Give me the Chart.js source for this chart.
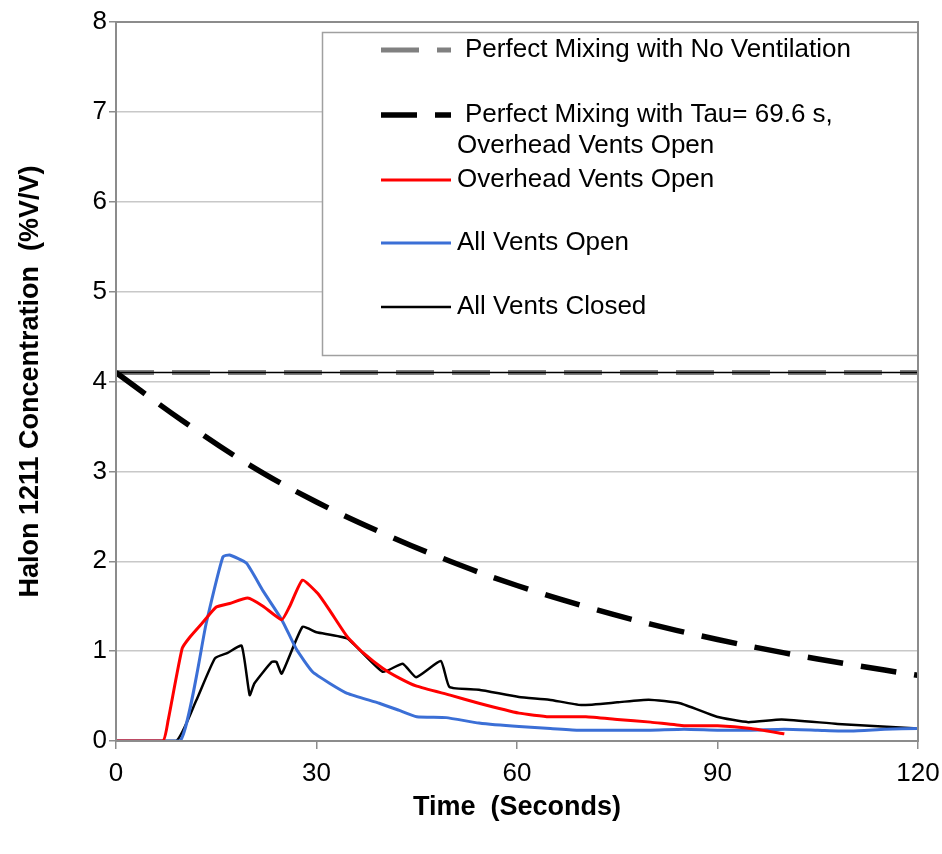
<!DOCTYPE html>
<html>
<head>
<meta charset="utf-8">
<script src="https://cdn.jsdelivr.net/npm/chart.js@4.4.1/dist/chart.umd.min.js"></script>
<style>
  html, body { margin: 0; padding: 0; background: #fff; }
</style>
</head>
<body>
<canvas id="graf" width="942" height="854"></canvas>
<script>
"use strict";

// Tid (s) og koncentration (%V/V)
const overheadT = [0, 7, 7.8, 9.9, 11.1, 13, 15, 17, 19.7, 22, 24.8, 26, 27.9, 30.2, 32, 34.6, 37, 39.9, 42.4, 45, 50, 54.3, 60.3, 64.8, 70.3, 75, 80, 85, 90, 95, 100];
const overheadV = [0, 0, 0.23, 1.03, 1.16, 1.32, 1.49, 1.53, 1.59, 1.5, 1.35, 1.5, 1.79, 1.64, 1.45, 1.16, 0.98, 0.81, 0.7, 0.61, 0.51, 0.42, 0.31, 0.27, 0.27, 0.24, 0.21, 0.17, 0.17, 0.14, 0.08];

const alleAabneT = [0, 9.6, 13.5, 16, 17, 19.5, 22, 24.8, 27, 29.4, 32, 34.6, 39.4, 42.4, 45, 49.4, 54.3, 60.3, 65, 69.3, 75, 80, 85, 90, 95, 100, 105, 110, 115, 120];
const alleAabneV = [0, 0, 1.31, 2.05, 2.07, 1.98, 1.67, 1.35, 1.02, 0.77, 0.64, 0.53, 0.42, 0.34, 0.27, 0.26, 0.2, 0.16, 0.14, 0.12, 0.12, 0.12, 0.13, 0.12, 0.12, 0.13, 0.12, 0.11, 0.13, 0.14];

const alleLukketT = [0, 9, 12, 14.8, 16.7, 18.8, 20, 20.7, 23.3, 24, 24.8, 27.9, 30, 34.6, 39.9, 42.9, 44.9, 48.6, 49.9, 54.3, 60.3, 64.8, 69.6, 75, 79.7, 84.4, 89.9, 94.6, 99.6, 108, 120];
const alleLukketV = [0, 0, 0.45, 0.92, 0.98, 1.06, 0.51, 0.64, 0.88, 0.88, 0.75, 1.27, 1.21, 1.14, 0.77, 0.86, 0.71, 0.89, 0.6, 0.57, 0.49, 0.46, 0.4, 0.43, 0.46, 0.42, 0.27, 0.21, 0.24, 0.19, 0.14];

const tauT = [0, 10, 20, 30, 40, 50, 60, 70, 80, 90, 100, 110, 120];
const tauV = [4.1, 3.56, 3.07, 2.66, 2.31, 2.0, 1.73, 1.5, 1.3, 1.13, 0.98, 0.85, 0.73];

const ingenVentT = [0, 120];
const ingenVentV = [4.1, 4.1];

const xTicks = [0, 30, 60, 90, 120];
const yTicks = [0, 1, 2, 3, 4, 5, 6, 7, 8];

const punkter = (t, v) => t.map((x, i) => ({ x: x, y: v[i] }));

const skrift = "'Liberation Sans', Arial, sans-serif";

// legende tegnes selv: boks med hvid baggrund inde i plotområdet
const legendePlugin = {
  id: "legende",
  afterDatasetsDraw(chart) {
    const ctx = chart.ctx;
    const a = chart.chartArea;
    ctx.save();
    ctx.fillStyle = "#fff";
    ctx.fillRect(322, 32, a.right - 322, 323);
    ctx.strokeStyle = "#a0a0a0";
    ctx.lineWidth = 1.5;
    ctx.strokeRect(322.5, 32.5, a.right - 322.5, 323);

    ctx.font = "26px " + skrift;
    ctx.textBaseline = "middle";
    const rader = [
      { ds: 0, y: 50, tx: 465, linjer: ["Perfect Mixing with No Ventilation"] },
      { ds: 1, y: 115, tx: 465, linjer: ["Perfect Mixing with Tau= 69.6 s,"], ekstra: ["Overhead Vents Open"] },
      { ds: 2, y: 180, tx: 457, linjer: ["Overhead Vents Open"] },
      { ds: 3, y: 243, tx: 457, linjer: ["All Vents Open"] },
      { ds: 4, y: 307, tx: 457, linjer: ["All Vents Closed"] }
    ];
    rader.forEach(r => {
      const d = chart.data.datasets[r.ds];
      ctx.beginPath();
      ctx.setLineDash(d.borderDash || []);
      ctx.strokeStyle = d.borderColor;
      ctx.lineWidth = d.borderWidth;
      ctx.moveTo(381, r.y);
      ctx.lineTo(451, r.y);
      ctx.stroke();
      ctx.fillStyle = "#000";
      r.linjer.forEach(t => ctx.fillText(t, r.tx, r.y));
      if (r.ekstra) r.ekstra.forEach((t, i) => ctx.fillText(t, 457, r.y + 31 * (i + 1)));
    });

    // ramme om plotområdet
    ctx.setLineDash([]);
    ctx.strokeStyle = "#8c8c8c";
    ctx.lineWidth = 2;
    ctx.strokeRect(a.left, a.top, a.right - a.left, a.bottom - a.top);
    ctx.restore();
  }
};

new Chart(document.getElementById("graf").getContext("2d"), {
  type: "line",
  data: {
    datasets: [
      { label: "Perfect Mixing with No Ventilation", data: punkter(ingenVentT, ingenVentV), borderColor: "#808080", borderWidth: 5, borderDash: [38, 18], pointRadius: 0, order: 2 },
      { label: "Perfect Mixing with Tau= 69.6 s, Overhead Vents Open", data: punkter(tauT, tauV), borderColor: "#000", borderWidth: 5.5, borderDash: [36, 18], tension: 0.4, pointRadius: 0 },
      { label: "Overhead Vents Open", data: punkter(overheadT, overheadV), borderColor: "#ff0000", borderWidth: 3, tension: 0.15, pointRadius: 0 },
      { label: "All Vents Open", data: punkter(alleAabneT, alleAabneV), borderColor: "#3b6fd6", borderWidth: 3, tension: 0.15, pointRadius: 0 },
      { label: "All Vents Closed", data: punkter(alleLukketT, alleLukketV), borderColor: "#000", borderWidth: 2.5, tension: 0.15, pointRadius: 0 },
      { label: "", data: punkter(ingenVentT, ingenVentV), borderColor: "#000", borderWidth: 1.3, pointRadius: 0, order: 1 }
    ]
  },
  options: {
    responsive: false,
    animation: false,
    layout: { padding: { top: 22, right: 24, left: 0, bottom: 0 } },
    plugins: { legend: { display: false }, tooltip: { enabled: false } },
    scales: {
      x: {
        type: "linear", min: 0, max: 120,
        afterBuildTicks: s => { s.ticks = xTicks.map(v => ({ value: v })); },
        afterFit: s => { s.height = 113; s.paddingLeft = 0; s.paddingRight = 0; },
        ticks: { color: "#000", font: { size: 26, family: skrift }, padding: 9, maxRotation: 0 },
        grid: { drawOnChartArea: false, tickLength: 8, color: "#8c8c8c", lineWidth: 1.5 },
        border: { color: "#8c8c8c", width: 2 },
        title: { display: true, text: "Time  (Seconds)", color: "#000", font: { size: 27, weight: "bold", family: skrift }, padding: { bottom: 30 } }
      },
      y: {
        min: 0, max: 8,
        afterBuildTicks: s => { s.ticks = yTicks.map(v => ({ value: v })); },
        afterFit: s => { s.width = 116; s.paddingTop = 0; s.paddingBottom = 0; },
        ticks: { color: "#000", font: { size: 26, family: skrift }, padding: 2 },
        grid: { color: "#c8c8c8", lineWidth: 1.5, tickLength: 7, tickColor: "#8c8c8c" },
        border: { color: "#8c8c8c", width: 2 },
        title: { display: true, text: "Halon 1211 Concentration  (%V/V)", color: "#000", font: { size: 27, weight: "bold", family: skrift }, padding: { top: 14 } }
      }
    }
  },
  plugins: [legendePlugin]
});
</script>
</body>
</html>
